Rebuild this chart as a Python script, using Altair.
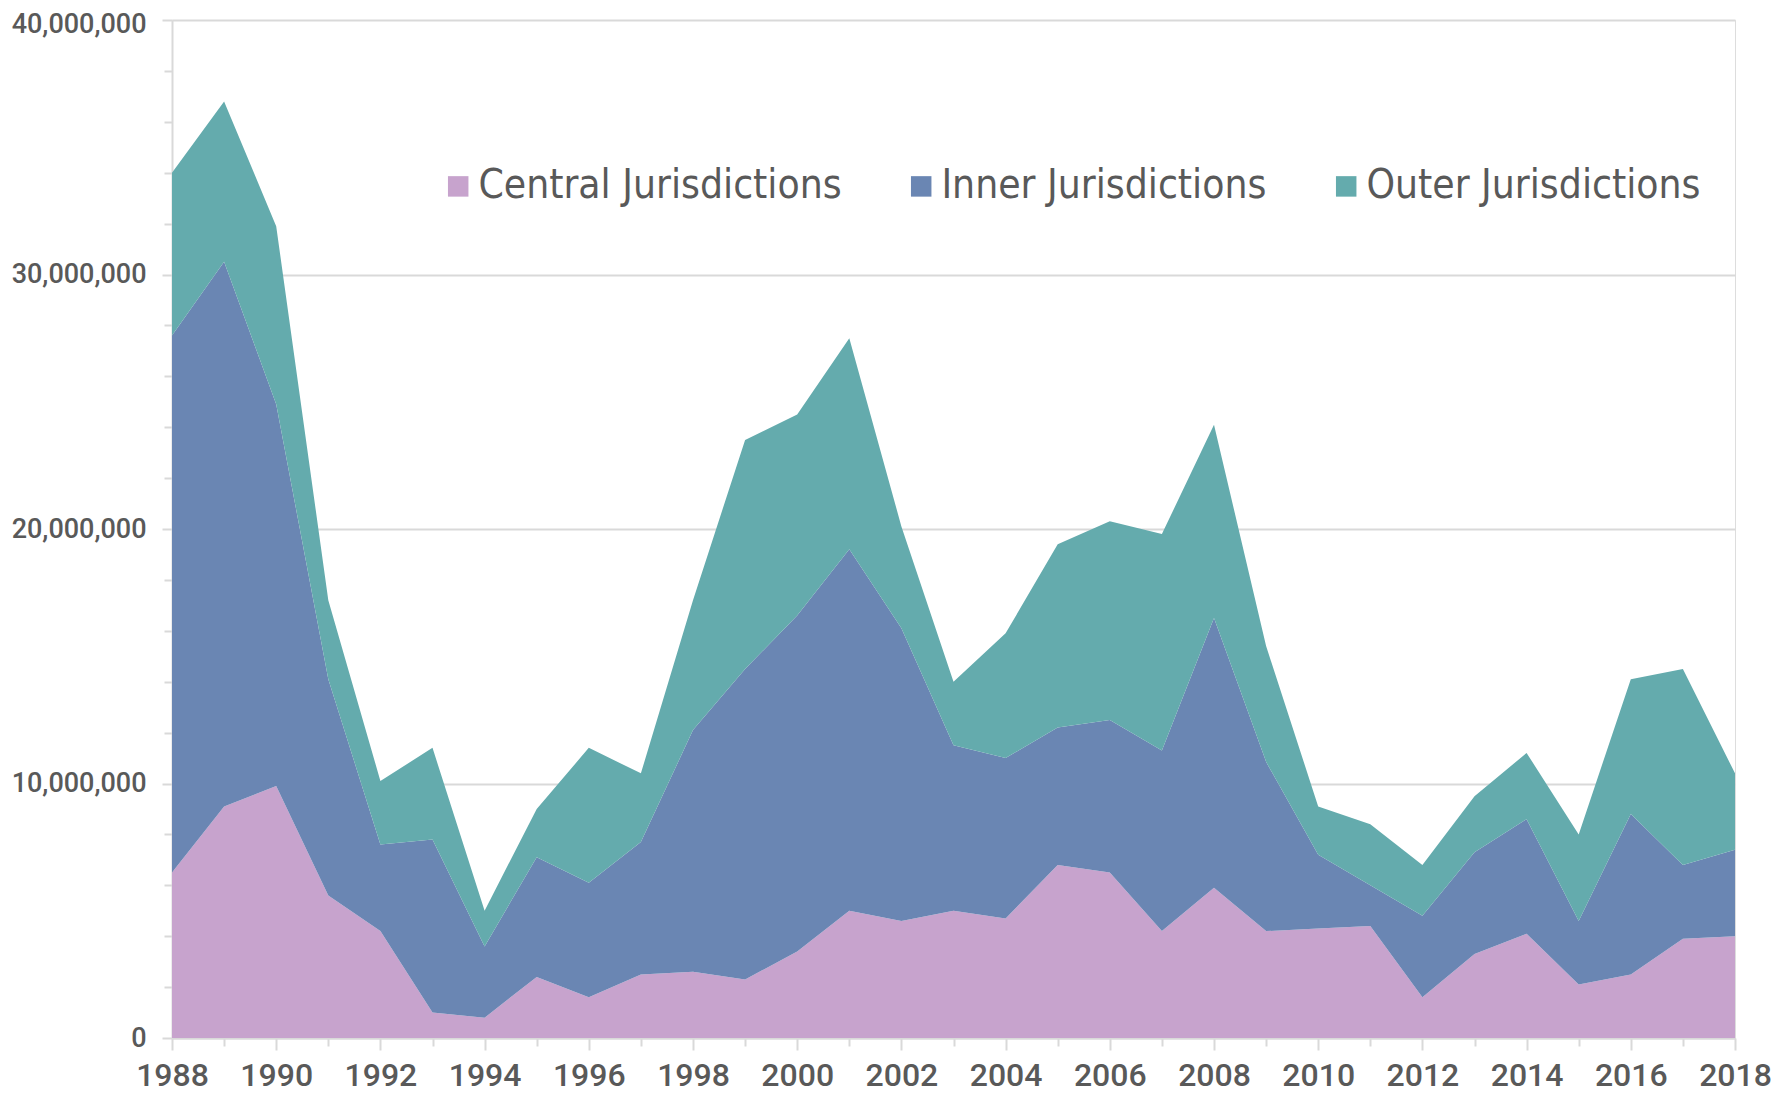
import altair as alt
import pandas as pd

years = list(range(1988, 2019))
series_names = ["Central Jurisdictions", "Inner Jurisdictions", "Outer Jurisdictions"]
series_colors = ["#C7A3CD", "#6A86B3", "#64ABAD"]

central = [6500000, 9100000, 9900000, 5600000, 4200000, 1000000, 800000, 2400000,
           1600000, 2500000, 2600000, 2300000, 3400000, 5000000, 4600000, 5000000,
           4700000, 6800000, 6500000, 4200000, 5900000, 4200000, 4300000, 4400000,
           1600000, 3300000, 4100000, 2100000, 2500000, 3900000, 4000000]
inner = [21100000, 21400000, 15000000, 8500000, 3400000, 6800000, 2800000, 4700000,
         4500000, 5200000, 9500000, 12200000, 13200000, 14200000, 11500000, 6500000,
         6300000, 5400000, 6000000, 7100000, 10600000, 6650000, 2900000, 1600000,
         3200000, 4000000, 4500000, 2500000, 6300000, 2900000, 3400000]
outer = [6400000, 6300000, 7000000, 3100000, 2500000, 3600000, 1400000, 1900000,
         5300000, 2700000, 5100000, 9000000, 7900000, 8300000, 4000000, 2500000,
         4900000, 7200000, 7800000, 8500000, 7600000, 4550000, 1900000, 2400000,
         2000000, 2200000, 2600000, 3400000, 5300000, 7700000, 3000000]

y_tick_values = list(range(0, 40000001, 2000000))

rows = []
for k, (name, vals) in enumerate(zip(series_names, [central, inner, outer])):
    for yr, v in zip(years, vals):
        rows.append({"year": yr, "series": name, "value": v, "order": k})
df = pd.DataFrame(rows)

axis_font = "Roboto, sans-serif"
legend_font = "DejaVu Sans Condensed, Roboto, sans-serif"
text_color = "#595959"
line_color = "#D9D9D9"

chart = alt.Chart(df).mark_area(opacity=1).encode(
    x=alt.X("year:Q",
            scale=alt.Scale(domain=[1988, 2018], nice=False, zero=False),
            axis=alt.Axis(title=None, values=years, grid=False,
                          labelExpr="datum.value % 2 == 0 ? datum.value : ''",
                          format="d",
                          labelFont=axis_font, labelFontSize=32, labelFontWeight=500,
                          labelColor=text_color,
                          labelPadding=10, labelFlush=False, labelOverlap=False,
                          domainColor=line_color, domainWidth=2,
                          tickColor=line_color, tickWidth=2,
                          tickSize={"condition": {"test": "datum.value % 2 == 0", "value": 12}, "value": 8})),
    y=alt.Y("value:Q", stack="zero",
            scale=alt.Scale(domain=[0, 40000000], nice=False),
            axis=alt.Axis(title=None, values=y_tick_values,
                          labelExpr="datum.value % 10000000 == 0 ? format(datum.value, ',') : ''",
                          labelFont=axis_font, labelFontSize=27, labelFontWeight=500,
                          labelColor=text_color,
                          labelPadding=16, labelOverlap=False, labelFlush=False,
                          labelOffset={"condition": {"test": "datum.value == 40000000", "value": 4}, "value": 0},
                          domainColor=line_color, domainWidth=2,
                          tickColor=line_color, tickWidth=2,
                          tickSize={"condition": {"test": "datum.value % 10000000 == 0", "value": 10}, "value": 8},
                          grid=True, gridColor=line_color, gridWidth=2,
                          gridOpacity={"condition": {"test": "datum.value % 10000000 == 0", "value": 1}, "value": 0})),
    color=alt.Color("series:N",
                    scale=alt.Scale(domain=series_names, range=series_colors),
                    legend=alt.Legend(orient="none", legendX=266, legendY=146,
                                      direction="horizontal", columns=3, title=None,
                                      symbolType="square", symbolSize=420,
                                      symbolStrokeWidth=0, symbolOpacity=1,
                                      labelFont=legend_font, labelFontSize=40.4,
                                      labelColor=text_color, labelOffset=0,
                                      columnPadding=59, padding=0, labelLimit=600)),
    order=alt.Order("order:Q", sort="ascending"),
).properties(
    width=1563, height=1018,
    autosize=alt.AutoSizeParams(type="none"),
    padding={"left": 164, "top": 12, "right": 37, "bottom": 56},
).configure_view(stroke=None).configure(background="white")

chart.save("out.html", embed_options={"renderer": "svg", "actions": False})
